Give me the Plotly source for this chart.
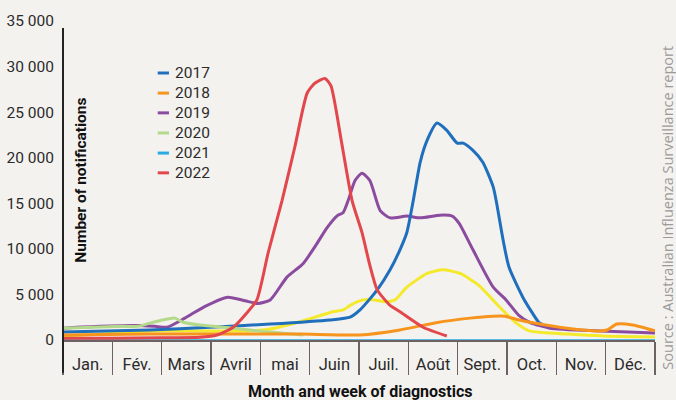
import plotly.graph_objects as go

months = ["Jan.", "Fév.", "Mars", "Avril", "mai", "Juin", "Juil.", "Août", "Sept.", "Oct.", "Nov.", "Déc."]
y_ticks = [0, 5000, 10000, 15000, 20000, 25000, 30000, 35000]
y_ticktext = ["0", "5 000", "10 000", "15 000", "20 000", "25 000", "30 000", "35 000"]

# x = position in months (0 = start of January)
x_2017 = [0, 1.76, 2.98, 4.2, 5.41, 5.82, 6.02, 6.37, 6.63, 6.83, 6.97, 7.1, 7.24, 7.38, 7.58, 7.78, 7.99, 8.11, 8.31, 8.51, 8.72, 8.78, 8.92, 9.04, 9.32, 9.65, 9.72]
y_2017 = [870, 1100, 1400, 1750, 2200, 2500, 3300, 5500, 7700, 9900, 11800, 15300, 19500, 21900, 23800, 23000, 21600, 21600, 20800, 19500, 16800, 15300, 11000, 8000, 4700, 1900, 1700]

x_2018 = [0, 1.76, 3.79, 4.8, 6.02, 6.83, 7.56, 8.25, 8.72, 8.96, 9.24, 9.53, 10.22, 10.83, 11.03, 11.23, 11.55, 12.0]
y_2018 = [550, 650, 650, 650, 550, 1100, 1900, 2400, 2600, 2600, 2200, 1900, 1300, 1000, 1100, 1750, 1650, 1000]

x_2019 = [0, 0.75, 1.52, 1.86, 2.11, 2.47, 2.88, 3.34, 3.69, 3.95, 4.2, 4.54, 4.87, 5.15, 5.35, 5.55, 5.68, 5.78, 5.92, 6.06, 6.22, 6.43, 6.63, 6.97, 7.24, 7.64, 7.89, 8.03, 8.31, 8.72, 8.98, 9.24, 9.47, 9.87, 10.89, 12.0]
y_2019 = [1300, 1500, 1600, 1500, 1400, 2400, 3700, 4700, 4300, 4000, 4400, 6900, 8400, 10600, 12300, 13600, 14000, 15300, 17500, 18300, 17500, 14200, 13400, 13600, 13400, 13700, 13600, 12800, 9900, 5800, 4400, 2700, 1900, 1300, 1000, 770]

x_2020 = [0, 1.2, 1.52, 1.76, 2.02, 2.27, 2.43, 2.78, 3.45, 4.13, 4.87]
y_2020 = [1300, 1500, 1500, 1850, 2200, 2400, 1950, 1650, 1300, 900, 550]

x_2021 = [0, 1, 2, 3, 4, 5, 6, 7, 8, 9, 10, 11, 12]
y_2021 = [20, 20, 20, 20, 20, 20, 20, 20, 20, 20, 20, 20, 20]

x_2022 = [0, 1.01, 1.97, 2.78, 3.12, 3.45, 3.73, 3.93, 4.16, 4.44, 4.7, 4.95, 5.11, 5.31, 5.43, 5.64, 5.86, 6.06, 6.22, 6.37, 6.63, 6.83, 7.3, 7.78]
y_2022 = [200, 200, 250, 300, 550, 1400, 3000, 4400, 9600, 15300, 21200, 27100, 28200, 28700, 27900, 21900, 15300, 11800, 8200, 5500, 3800, 3100, 1400, 440]

x_other = [0, 0.75, 1.76, 2.78, 3.79, 4.2, 4.8, 5.47, 5.68, 5.82, 6.08, 6.32, 6.53, 6.73, 6.97, 7.38, 7.7, 8.05, 8.43, 8.78, 9.18, 9.45, 10.26, 10.95, 12.0]
y_other = [440, 650, 1000, 1000, 1000, 1200, 2000, 3100, 3300, 3800, 4400, 4400, 4200, 4400, 5800, 7300, 7700, 7300, 6000, 4000, 1900, 1000, 650, 440, 330]

series = [
    ("2021", x_2021, y_2021, "#27aae1", 1.2),
    ("other", x_other, y_other, "#f4e92a", 3),
    ("2019", x_2019, y_2019, "#8b4b9f", 3),
    ("2017", x_2017, y_2017, "#1f6fbd", 3),
    ("2020", x_2020, y_2020, "#b3d98b", 3),
    ("2018", x_2018, y_2018, "#f7941d", 3),
    ("2022", x_2022, y_2022, "#e2474b", 3),
]
legend_order = ["2017", "2018", "2019", "2020", "2021", "2022"]

fig = go.Figure()
for name, xs, ys, col, w in series:
    fig.add_trace(go.Scatter(x=xs, y=ys, mode="lines", name=name,
                             line=dict(color=col, width=w, shape="spline", smoothing=0.6),
                             showlegend=False, hoverinfo="skip"))

bg = "#f4f2ef"
font = "Roboto, Inter, sans-serif"

fig.update_layout(
    width=676, height=400,
    margin=dict(l=63, r=21, t=21, b=60, autoexpand=False),
    paper_bgcolor=bg, plot_bgcolor=bg,
    font=dict(family=font, size=15, color="#2b2b2b"),
    showlegend=False,
)
fig.update_xaxes(
    range=[0, 12], showgrid=False, zeroline=False, automargin=False,
    showline=True, linecolor="#6d6262", linewidth=1.5,
    tickmode="array", tickvals=[i + 0.5 for i in range(12)], ticktext=months,
    ticks="outside", ticklen=9, tickcolor="rgba(0,0,0,0)",
    tickfont=dict(size=16.5, color="#2b2b2b"),
    minor=dict(tickmode="linear", tick0=0, dtick=1, ticks="outside", ticklen=33,
               tickcolor="#6d6262", tickwidth=1.5, showgrid=False),
)
fig.update_yaxes(
    range=[0, 35000], showgrid=False, zeroline=False, showline=False, automargin=False,
    tickmode="array", tickvals=y_ticks, ticktext=y_ticktext,
    ticks="outside", ticklen=5, tickcolor="rgba(0,0,0,0)",
    tickfont=dict(size=15.5, color="#2b2b2b"),
)

# left axis line extending into month-label band
fig.add_shape(type="line", xref="paper", yref="paper", x0=0, x1=0, y0=-0.103, y1=0.978,
              line=dict(color="#222222", width=2))

# custom legend
lx0, lx1, ltx = 0.160, 0.179, 0.186
ly = [0.837, 0.774, 0.712, 0.649, 0.586, 0.524]
cols = {name: col for name, _, _, col, _ in series}
for name, yy in zip(legend_order, ly):
    fig.add_shape(type="line", xref="paper", yref="paper", x0=lx0, x1=lx1, y0=yy, y1=yy,
                  line=dict(color=cols[name], width=3))
    fig.add_annotation(xref="paper", yref="paper", x=ltx, y=yy, text=name, showarrow=False,
                       xanchor="left", yanchor="middle", font=dict(size=15.5, color="#2b2b2b"))

fig.add_annotation(xref="paper", yref="paper", x=0.029, y=0.50, text="<b>Number of notifications</b>",
                   textangle=-90, showarrow=False, xanchor="center", yanchor="middle",
                   font=dict(size=15.5, color="#111111"))
fig.add_annotation(xref="paper", yref="paper", x=0.502, y=-0.16, text="<b>Month and week of diagnostics</b>",
                   showarrow=False, xanchor="center", yanchor="middle",
                   font=dict(size=16, color="#111111"))
fig.add_annotation(xref="paper", yref="paper", x=1.0215, y=0.414,
                   text="Source : Australian Influenza Surveillance report",
                   textangle=-90, showarrow=False, xanchor="center", yanchor="middle",
                   font=dict(family="Open Sans, sans-serif", size=14.5, color="#9a9a9a"))

fig.write_html("out.html", config={"displayModeBar": False, "staticPlot": True},
               post_script="document.body.style.margin='0px';document.body.style.background='#f4f2ef';")
